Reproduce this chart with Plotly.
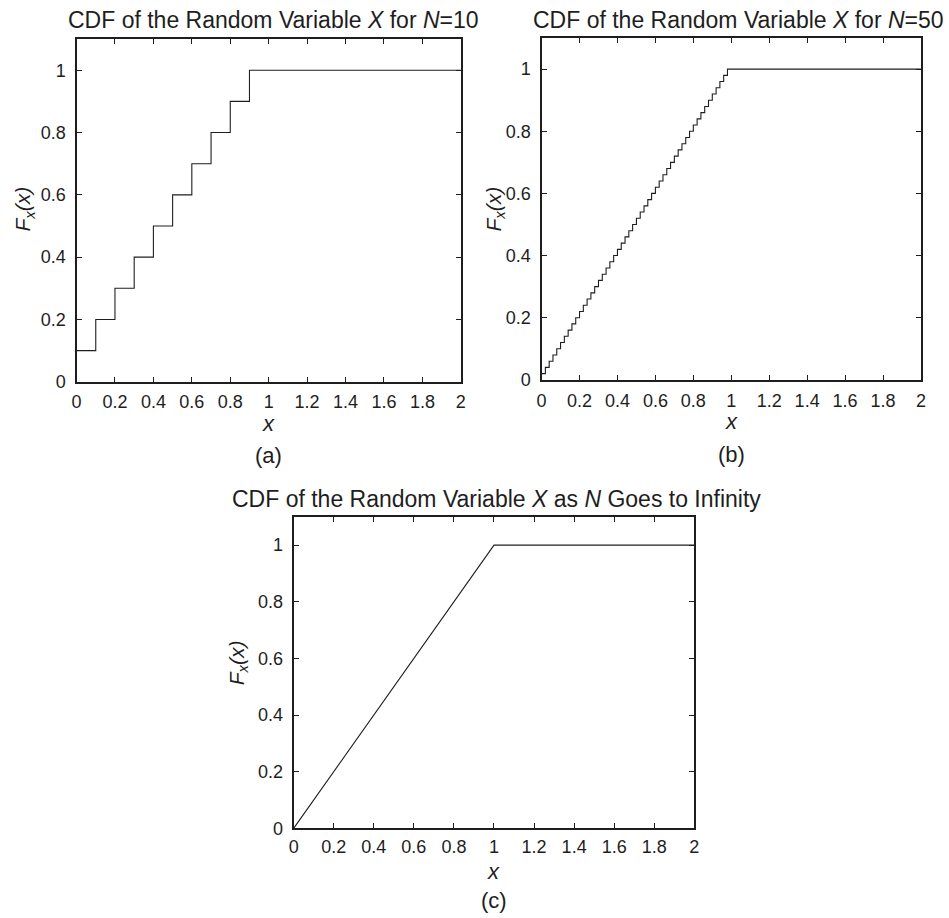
import plotly.graph_objects as go

# Empirical CDF of X for N = 10: jump locations and levels
x_n10 = [0.0, 0.1, 0.2, 0.3, 0.4, 0.5, 0.6, 0.7, 0.8, 0.9, 2.0]
F_n10 = [0.1, 0.2, 0.3, 0.4, 0.5, 0.6, 0.7, 0.8, 0.9, 1.0, 1.0]

# Empirical CDF of X for N = 50
x_n50 = [0.00, 0.02, 0.04, 0.06, 0.08, 0.10, 0.12, 0.14, 0.16, 0.18,
         0.20, 0.22, 0.24, 0.26, 0.28, 0.30, 0.32, 0.34, 0.36, 0.38,
         0.40, 0.42, 0.44, 0.46, 0.48, 0.50, 0.52, 0.54, 0.56, 0.58,
         0.60, 0.62, 0.64, 0.66, 0.68, 0.70, 0.72, 0.74, 0.76, 0.78,
         0.80, 0.82, 0.84, 0.86, 0.88, 0.90, 0.92, 0.94, 0.96, 0.98, 2.00]
F_n50 = [0.02, 0.04, 0.06, 0.08, 0.10, 0.12, 0.14, 0.16, 0.18, 0.20,
         0.22, 0.24, 0.26, 0.28, 0.30, 0.32, 0.34, 0.36, 0.38, 0.40,
         0.42, 0.44, 0.46, 0.48, 0.50, 0.52, 0.54, 0.56, 0.58, 0.60,
         0.62, 0.64, 0.66, 0.68, 0.70, 0.72, 0.74, 0.76, 0.78, 0.80,
         0.82, 0.84, 0.86, 0.88, 0.90, 0.92, 0.94, 0.96, 0.98, 1.00, 1.00]

# Limiting CDF (uniform on [0, 1])
x_inf = [0.0, 1.0, 2.0]
F_inf = [0.0, 1.0, 1.0]

x_ticks = [0, 0.2, 0.4, 0.6, 0.8, 1, 1.2, 1.4, 1.6, 1.8, 2]
x_tick_text = ["0", "0.2", "0.4", "0.6", "0.8", "1", "1.2", "1.4", "1.6", "1.8", "2"]
y_ticks = [0, 0.2, 0.4, 0.6, 0.8, 1]
y_tick_text = ["0", "0.2", "0.4", "0.6", "0.8", "1"]

titles = [
    "CDF of the Random Variable <i>X</i> for <i>N</i>=10",
    "CDF of the Random Variable <i>X</i> for <i>N</i>=50",
    "CDF of the Random Variable <i>X</i> as <i>N</i> Goes to Infinity",
]
panel_tags = ["(a)", "(b)", "(c)"]

W, H = 949, 918
FONT = "Liberation Sans, Arial, Helvetica, sans-serif"
INK = "#1e1e1e"


def px(x):
    return x / W


def py(y):
    return 1 - y / H


# plot boxes in pixels: left, right, top, bottom
boxes = [
    (72.3, 460.7, 39.5, 386.0),
    (542.3, 925.7, 38.5, 384.0),
    (291.7, 696.7, 522.5, 837.5),
]

fig = go.Figure()
fig.add_trace(go.Scatter(x=x_n10, y=F_n10, mode="lines", line_shape="hv",
                         line=dict(color=INK, width=1.1), xaxis="x", yaxis="y"))
fig.add_trace(go.Scatter(x=x_n50, y=F_n50, mode="lines", line_shape="hv",
                         line=dict(color=INK, width=1.1), xaxis="x2", yaxis="y2"))
fig.add_trace(go.Scatter(x=x_inf, y=F_inf, mode="lines",
                         line=dict(color=INK, width=1.1), xaxis="x3", yaxis="y3"))

axis_common = dict(
    showgrid=False, zeroline=False, showline=True, linecolor=INK, linewidth=2.2,
    mirror="ticks", ticks="inside", ticklen=5, tickwidth=1, tickcolor=INK,
    tickfont=dict(family=FONT, size=18, color=INK),
)

layout = dict(
    width=W, height=H, margin=dict(l=0, r=0, t=0, b=0),
    paper_bgcolor="white", plot_bgcolor="white", showlegend=False,
    font=dict(family=FONT, color=INK),
)

annotations = []
title_centers = [(271.5, 20), (741.5, 20), (496.5, 504.5)]
ylab_pos = [(19, 211), (495, 211), (235, 670)]
xlab_dy = [42, 42, 44]
tag_dy = [75, 75, 73]
x_standoff = [3, 3, 1]

for i, (l, r, t, b) in enumerate(boxes):
    sfx = "" if i == 0 else str(i + 1)
    layout["xaxis" + sfx] = dict(
        axis_common, domain=[px(l), px(r)], range=[0, 2],
        tickvals=x_ticks, ticktext=x_tick_text, anchor="y" + sfx,
        ticklabelstandoff=x_standoff[i],
    )
    layout["yaxis" + sfx] = dict(
        axis_common, domain=[py(b), py(t)], range=[0, 1.1],
        tickvals=y_ticks, ticktext=y_tick_text, anchor="x" + sfx,
        ticklabelstandoff=5,
    )
    cx = (l + r) / 2
    tx, ty = title_centers[i]
    annotations.append(dict(text=titles[i], x=px(tx), y=py(ty), xref="paper", yref="paper",
                            showarrow=False, xanchor="center", yanchor="middle",
                            font=dict(family=FONT, size=23, color=INK)))
    annotations.append(dict(text="<i>x</i>", x=px(cx), y=py(b + xlab_dy[i]), xref="paper",
                            yref="paper", showarrow=False, xanchor="center", yanchor="middle",
                            font=dict(family=FONT, size=22, color=INK)))
    annotations.append(dict(text=panel_tags[i], x=px(cx), y=py(b + tag_dy[i]), xref="paper",
                            yref="paper", showarrow=False, xanchor="center", yanchor="middle",
                            font=dict(family=FONT, size=22, color=INK)))
    lx, ly = ylab_pos[i]
    annotations.append(dict(text="<i>F<sub>x</sub>(x)</i>", x=px(lx), y=py(ly),
                            xref="paper", yref="paper", showarrow=False, textangle=-90,
                            xanchor="center", yanchor="middle",
                            font=dict(family=FONT, size=21, color=INK)))

layout["annotations"] = annotations
fig.update_layout(**layout)
fig.write_html("out.html")
